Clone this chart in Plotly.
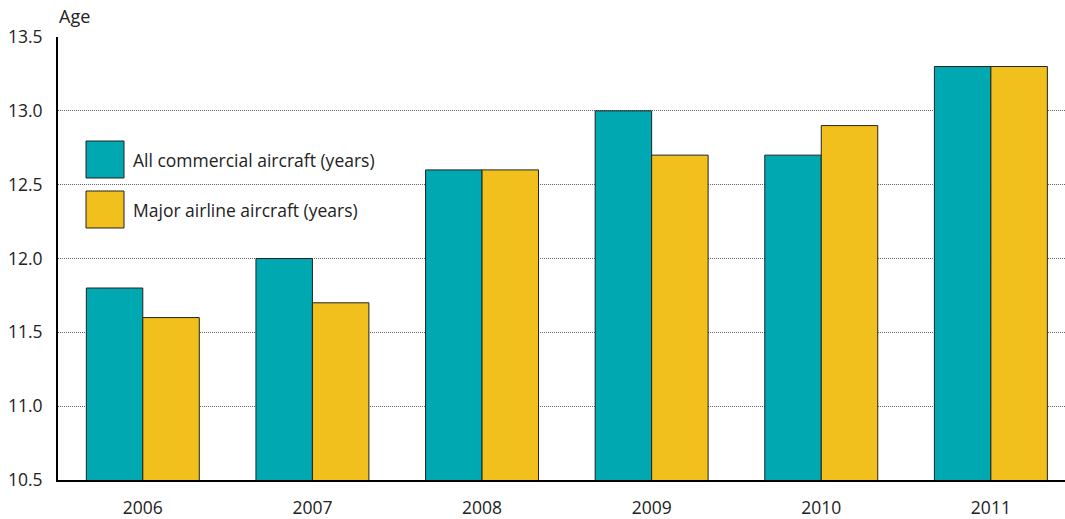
import plotly.graph_objects as go

years = ["2006", "2007", "2008", "2009", "2010", "2011"]
all_commercial = [11.8, 12.0, 12.6, 13.0, 12.7, 13.3]
major_airline = [11.6, 11.7, 12.6, 12.7, 12.9, 13.3]
series_names = ["All commercial aircraft (years)", "Major airline aircraft (years)"]
y_ticks = [10.5, 11.0, 11.5, 12.0, 12.5, 13.0, 13.5]

TEAL = "#00A9B1"
GOLD = "#F2C01C"
OUTLINE = "#222222"
FONT = "Open Sans, Lato, sans-serif"

fig = go.Figure()
for name, vals, col in [(series_names[0], all_commercial, TEAL),
                        (series_names[1], major_airline, GOLD)]:
    fig.add_trace(go.Bar(
        x=years, y=vals, name=name, marker_color=col,
        marker_line_color=OUTLINE, marker_line_width=1,
        showlegend=False,
    ))

# Legend drawn as swatches + labels inside the plot
legend_rows = [(series_names[0], TEAL, 0.0), (series_names[1], GOLD, 1.0)]
for label, col, i in legend_rows:
    y0 = 1 - (141 + i * 50 - 37) / 443
    y1 = 1 - (178 + i * 50 - 37) / 443
    fig.add_shape(type="rect", xref="paper", yref="paper",
                  x0=(86 - 58) / 1007, x1=(124 - 58) / 1007, y0=y1, y1=y0,
                  fillcolor=col, line=dict(color=OUTLINE, width=1), layer="above")
    fig.add_annotation(xref="paper", yref="paper", x=(131 - 58) / 1007,
                       y=(y0 + y1) / 2, text=label, showarrow=False,
                       xanchor="left", yanchor="middle",
                       font=dict(family=FONT, size=17.5, color="#222"))

fig.add_annotation(xref="paper", yref="paper", x=(57 - 58) / 1007, y=1 + 21 / 443,
                   text="Age", showarrow=False, xanchor="left", yanchor="middle",
                   font=dict(family=FONT, size=18, color="#222"))

fig.update_layout(
    width=1065, height=519,
    margin=dict(l=58, r=0, t=37, b=39),
    paper_bgcolor="white", plot_bgcolor="white",
    barmode="group", bargap=0.334, bargroupgap=0,
    font=dict(family=FONT, size=17.5, color="#222"),
)
fig.update_xaxes(
    range=[-0.5, 5.437], showline=True, linecolor="black", linewidth=2,
    ticks="", showgrid=False, tickfont=dict(size=17.5), ticklabelstandoff=11,
)
fig.update_yaxes(
    range=[10.5, 13.5], tickvals=y_ticks, ticktext=[f"{v:.1f}" for v in y_ticks],
    showline=True, linecolor="black", linewidth=2, ticks="",
    showgrid=True, gridcolor="#666", gridwidth=1, griddash="1px,1px",
    zeroline=False, tickfont=dict(size=17.5), ticklabelstandoff=10,
)

fig.write_html("out.html")
